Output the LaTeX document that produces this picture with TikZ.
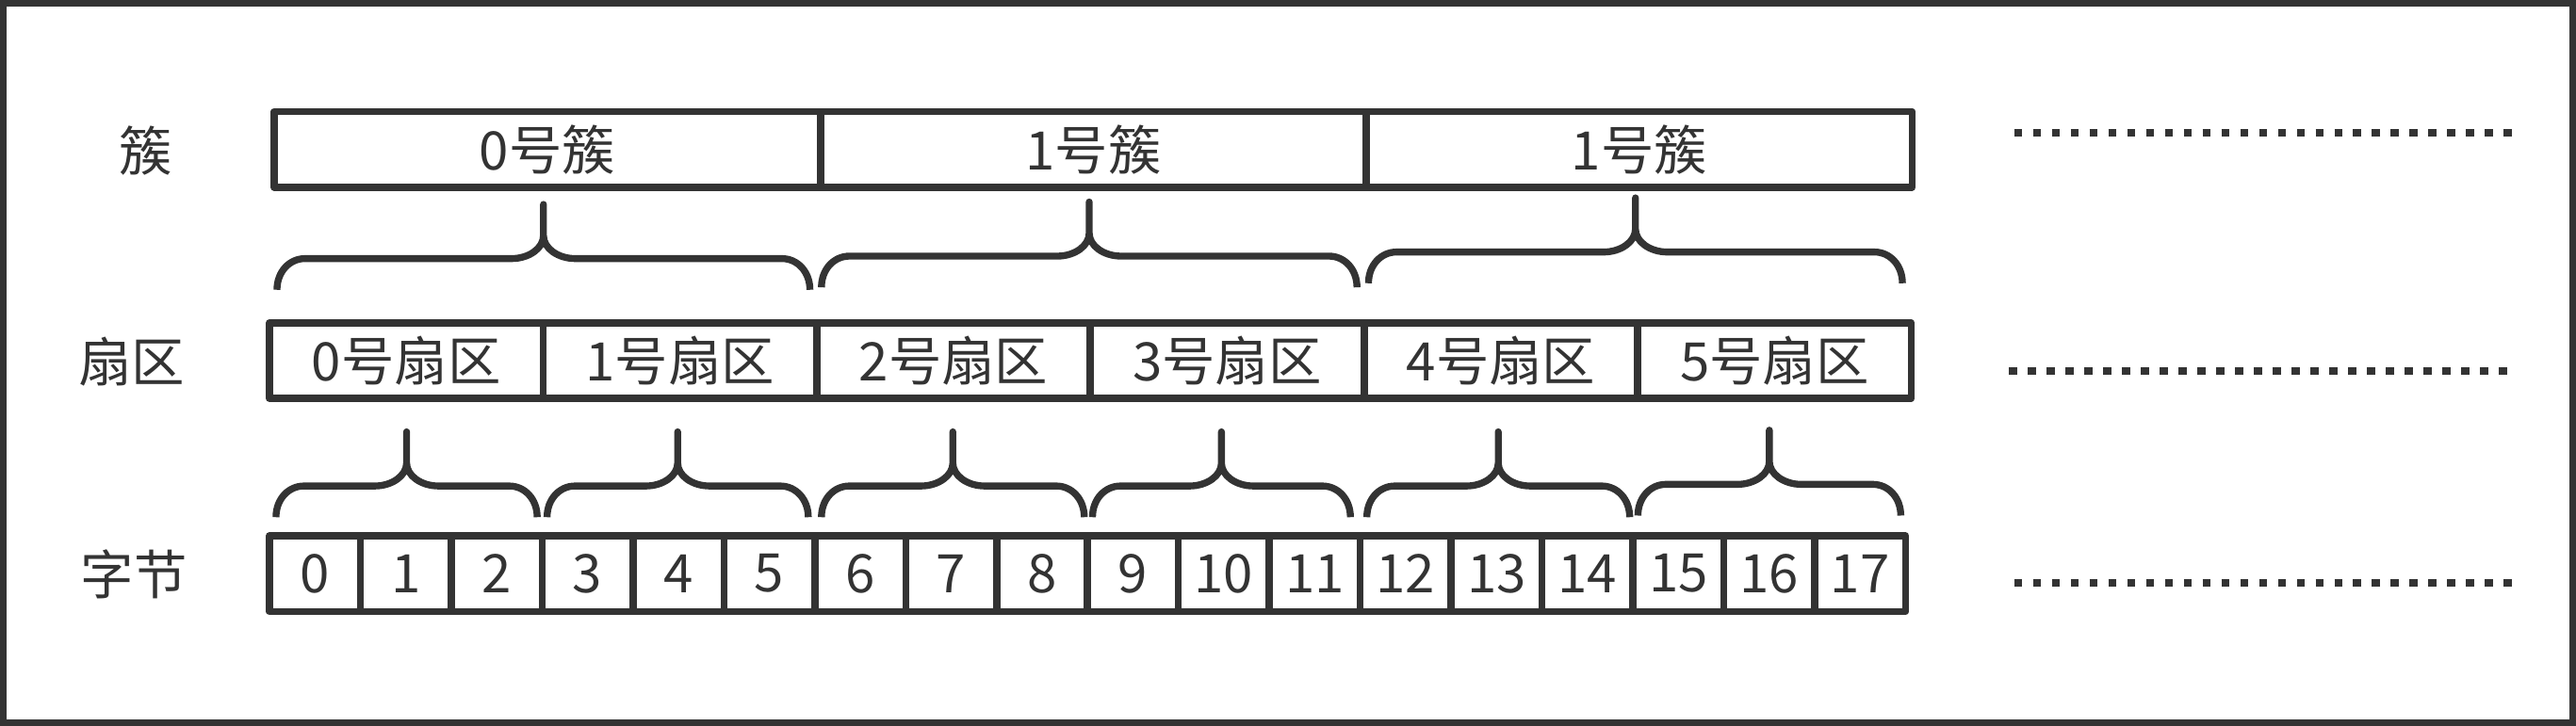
\documentclass[tikz,border=0pt]{standalone}
\usepackage{fontspec}
\setmainfont{Noto Sans CJK SC}
\usetikzlibrary{positioning, calc}
\definecolor{ink}{HTML}{333333}

% brace opening downwards: left x, right x, tip y
\newcommand{\bracecurve}[3]{%
    \pgfmathsetmacro{\bcx}{(#1+#2)/2}%
    \pgfmathsetmacro{\bby}{#3+33}%
    \pgfmathsetmacro{\bey}{#3+52}%
    \draw[brace] (#1,\bey) .. controls (#1,\bey-11) and (#1+7.6,\bby) .. (#1+17,\bby)
        -- (\bcx-19.5,\bby) .. controls (\bcx-8.8,\bby) and (\bcx,\bby-6.3) .. (\bcx,\bby-14)
        -- (\bcx,#3) -- (\bcx,\bby-14)
        .. controls (\bcx,\bby-6.3) and (\bcx+8.8,\bby) .. (\bcx+19.5,\bby)
        -- (#2-17,\bby) .. controls (#2-7.6,\bby) and (#2,\bey-11) .. (#2,\bey);%
}

\begin{document}
\begin{tikzpicture}[
        x=0.01cm, y=-0.01cm,
        cell/.style={rectangle, draw=ink, line width=1.22pt, line join=round, inner sep=0pt, minimum height=0.46cm, text=ink, font=\fontsize{9.2}{10}\selectfont},
        clus/.style={cell, minimum width=3.3233cm},
        sect/.style={cell, minimum width=1.6658cm},
        byte/.style={cell, minimum width=0.5533cm},
        lab/.style={text=ink, inner sep=0pt, font=\fontsize{9.2}{10}\selectfont},
        brace/.style={draw=ink, line width=1.2pt, line cap=butt, line join=round},
        dots/.style={draw=ink, line width=1.36pt, dash pattern=on 1.36pt off 1.9pt},
        frame/.style={draw=ink, line width=1.15pt}
    ]

    \useasboundingbox (0,0) rectangle (1568,442);
    \draw[frame] (2,2) rectangle (1566,440);

    % Row labels
    \node[lab] (lclus) at (89,92) {簇};
    \node[lab] (lsect) at (80,220) {扇区};
    \node[lab] (lbyte) at (81.6,350) {字节};

    % Clusters
    \foreach \i/\t in {0/0号簇, 1/1号簇, 2/1号簇}
        \node[clus] (c\i) at ({167+332.33*(\i+0.5)},91) {\t};

    % Sectors
    \foreach \i in {0,...,5}
        \node[sect] (s\i) at ({164+166.58*(\i+0.5)},219.6) {{\i}号扇区};

    % Bytes
    \foreach \i in {0,...,17}
        \node[byte] (b\i) at ({164+55.33*(\i+0.5)},349.4) {\i};

    % Braces: cluster -> sectors
    \bracecurve{168.6}{493}{124.5}
    \bracecurve{500}{826}{123}
    \bracecurve{833}{1158}{120.5}

    % Braces: sector -> bytes
    \foreach \l/\r/\t in {168/327/263, 333/492/263, 500/660/263, 665/822/263, 832/992/263, 997/1157/262}
        {\bracecurve{\l}{\r}{\t}}

    % Continuation
    \coordinate (d1a) at (1226,81);  \coordinate (d1b) at (1532,81);
    \coordinate (d2a) at (1223,226); \coordinate (d2b) at (1528,226);
    \coordinate (d3a) at (1226,355); \coordinate (d3b) at (1531,355);
    \draw[dots] (d1a) -- (d1b);
    \draw[dots] (d2a) -- (d2b);
    \draw[dots] (d3a) -- (d3b);

\end{tikzpicture}
\end{document}
